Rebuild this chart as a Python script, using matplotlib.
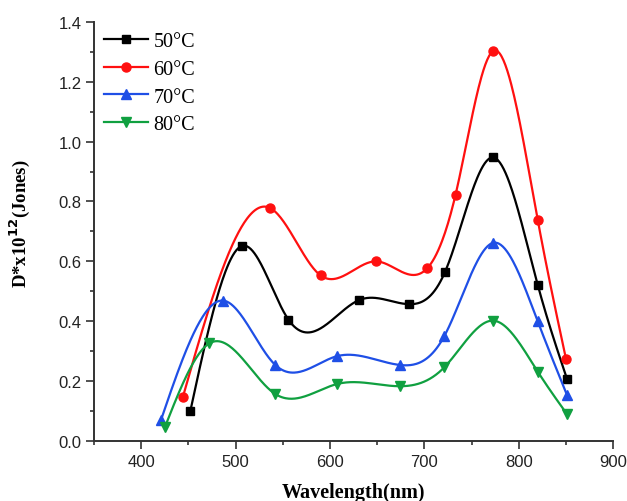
import numpy as np
import matplotlib
matplotlib.use("Agg")
import matplotlib.pyplot as plt
from matplotlib.ticker import MultipleLocator

labels = ["50°C", "60°C", "70°C", "80°C"]

wl_50 = [452, 507, 556, 631, 684, 722, 773, 820, 851]
d_50 = [0.10, 0.652, 0.405, 0.471, 0.457, 0.566, 0.947, 0.522, 0.208]

wl_60 = [444, 536, 590, 649, 703, 733, 773, 820, 850]
d_60 = [0.146, 0.779, 0.553, 0.600, 0.577, 0.823, 1.303, 0.739, 0.274]

wl_70 = [421, 487, 542, 607, 674, 721, 773, 820, 851]
d_70 = [0.071, 0.469, 0.254, 0.283, 0.254, 0.350, 0.662, 0.400, 0.154]

wl_80 = [425, 472, 542, 607, 674, 721, 773, 820, 851]
d_80 = [0.046, 0.326, 0.157, 0.190, 0.183, 0.246, 0.402, 0.232, 0.090]

colors = ["black", "#ff1010", "#1f4fe6", "#10a040"]
markers = ["s", "o", "^", "v"]


def spline(x, y, n=400):
    # natural cubic spline, like Origin's spline connect
    x = np.asarray(x, float)
    y = np.asarray(y, float)
    k = len(x)
    h = np.diff(x)
    A = np.zeros((k, k))
    b = np.zeros(k)
    A[0, 0] = A[-1, -1] = 1
    for i in range(1, k - 1):
        A[i, i - 1] = h[i - 1]
        A[i, i] = 2 * (h[i - 1] + h[i])
        A[i, i + 1] = h[i]
        b[i] = 6 * ((y[i + 1] - y[i]) / h[i] - (y[i] - y[i - 1]) / h[i - 1])
    m = np.linalg.solve(A, b)
    xs = np.linspace(x[0], x[-1], n)
    idx = np.clip(np.searchsorted(x, xs) - 1, 0, k - 2)
    x0, x1 = x[idx], x[idx + 1]
    hh = x1 - x0
    t0, t1 = x1 - xs, xs - x0
    ys = (m[idx] * t0 ** 3 + m[idx + 1] * t1 ** 3) / (6 * hh) \
        + (y[idx] / hh - m[idx] * hh / 6) * t0 \
        + (y[idx + 1] / hh - m[idx + 1] * hh / 6) * t1
    return xs, ys


fig = plt.figure(figsize=(6.27, 5.02), dpi=100)
ax = fig.add_axes([0.150, 0.1195, 0.828, 0.835])

series = [(wl_50, d_50), (wl_60, d_60), (wl_70, d_70), (wl_80, d_80)]
sizes = [6, 6.5, 7.5, 7.5]
for (x, y), c, mk, lab, ms in zip(series, colors, markers, labels, sizes):
    xs, ys = spline(x, y)
    ax.plot(xs, ys, color=c, lw=1.6)
    ax.plot(x, y, linestyle="none", marker=mk, color=c, ms=ms)
    ax.plot([], [], color=c, lw=1.6, marker=mk, ms=ms, label=lab)

ax.set_xlim(350, 900)
ax.set_ylim(0, 1.4)
ax.xaxis.set_major_locator(MultipleLocator(100))
ax.xaxis.set_minor_locator(MultipleLocator(50))
ax.yaxis.set_major_locator(MultipleLocator(0.2))
ax.yaxis.set_minor_locator(MultipleLocator(0.1))
ax.yaxis.set_major_formatter(matplotlib.ticker.FormatStrFormatter("%.1f"))

for s in ["top", "right"]:
    ax.spines[s].set_visible(False)
for s in ["left", "bottom"]:
    ax.spines[s].set_linewidth(1.4)
    ax.spines[s].set_color("#333333")

ax.tick_params(which="major", direction="out", length=5.5, width=1.2, color="#333333",
               labelsize=12, labelcolor="#222222")
ax.tick_params(which="minor", direction="out", length=3, width=1.2, color="#333333")
for t in ax.get_xticklabels() + ax.get_yticklabels():
    t.set_family("Liberation Sans")

ax.set_xlabel("Wavelength(nm)", fontsize=14.5, fontweight="bold", family="Liberation Serif", labelpad=10)
ax.set_ylabel(r"D*x10$^{\mathbf{12}}$(Jones)", fontsize=13.5, fontweight="bold", family="Liberation Serif")
ax.yaxis.set_label_coords(-0.119, 0.52)

leg = ax.legend(loc="upper left", bbox_to_anchor=(0.0, 1.0), frameon=False,
                prop={"family": "Liberation Serif", "size": 14.5},
                handlelength=2.2, handletextpad=0.25, labelspacing=0.43,
                borderpad=0.5, borderaxespad=0.0)

fig.savefig("out.png", dpi=100)
